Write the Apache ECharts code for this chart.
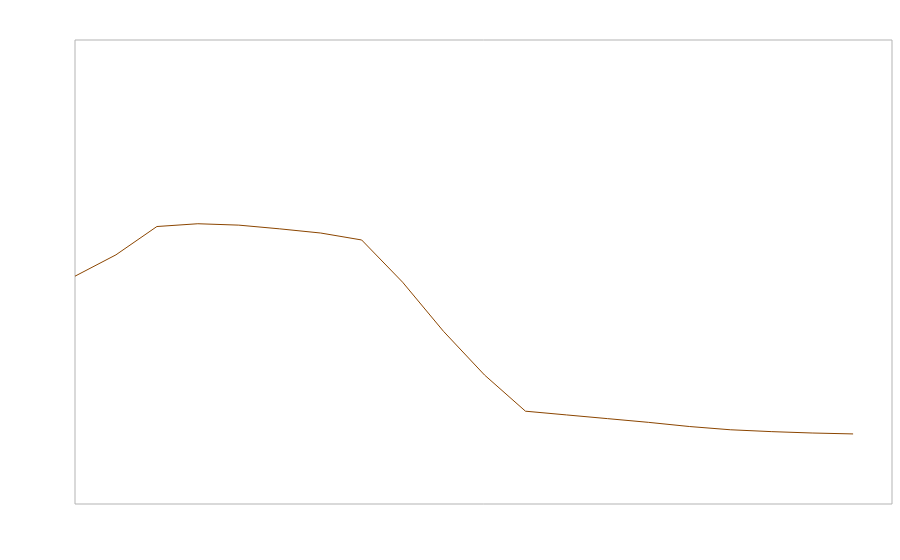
<!DOCTYPE html>
<html>
<head>
<meta charset="utf-8">
<script src="https://cdn.jsdelivr.net/npm/echarts@6/dist/echarts.min.js"></script>
<style>
  html, body { margin: 0; padding: 0; background: #fff; }
  #chart { width: 900px; height: 560px; }
</style>
</head>
<body>
<div id="chart"></div>
<script>
// x positions (index steps) and values
const xSteps = [0, 1, 2, 3, 4, 5, 6, 7, 8, 9, 10, 11, 12, 13, 14, 15, 16, 17, 18, 19]
const values = [49.1, 53.7, 59.8, 60.4, 60.1, 59.3, 58.4, 56.9, 47.8, 37.2, 27.8, 20.0, 19.2, 18.4, 17.6, 16.7, 16.0, 15.6, 15.3, 15.1]

const chart = echarts.init(document.getElementById('chart'))

const option = {
  animation: false,
  grid: {
    left: 75,
    right: 8,
    top: 40,
    bottom: 56,
    show: true,
    borderColor: '#b3b3b3',
    borderWidth: 1,
    backgroundColor: '#fff'
  },
  xAxis: {
    type: 'value',
    min: 0,
    max: 19.95,
    show: false
  },
  yAxis: {
    type: 'value',
    min: 0,
    max: 100,
    show: false
  },
  series: [
    {
      type: 'line',
      data: xSteps.map((x, i) => [x, values[i]]),
      showSymbol: false,
      lineStyle: {
        width: 1,
        color: '#8b4500'
      }
    }
  ]
}

chart.setOption(option)
</script>
</body>
</html>
